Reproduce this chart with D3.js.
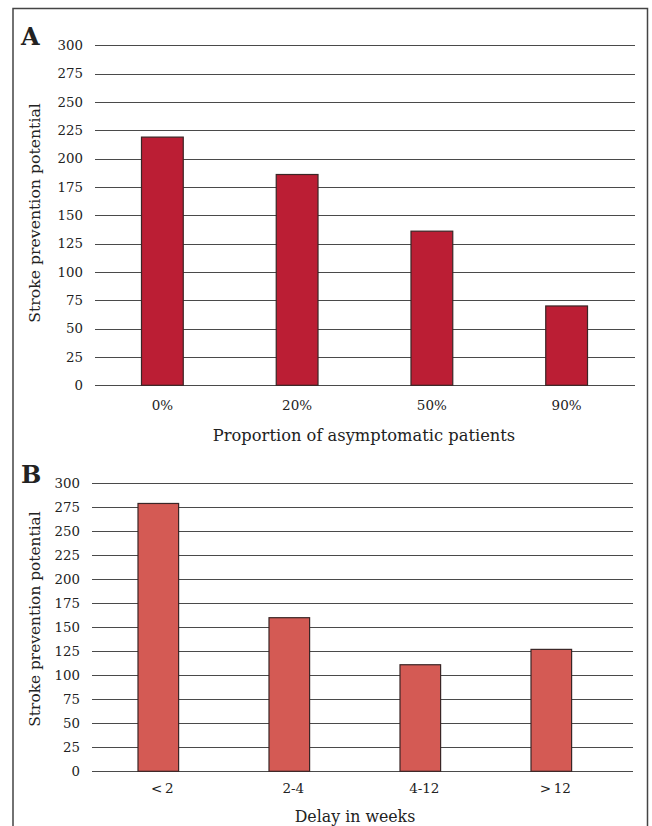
<!DOCTYPE html>
<html>
<head>
<meta charset="utf-8">
<script src="https://cdn.jsdelivr.net/npm/d3@7"></script>
<style>
  body { margin: 0; background: #fff; }
  svg { display: block; }
  text { font-family: "DejaVu Serif", serif; fill: #222; }
</style>
</head>
<body>
<svg id="chart" width="652" height="826"></svg>
<script>
// Panel A data
const categoriesA = ['0%', '20%', '50%', '90%'];
const valuesA = [219, 186, 136, 70];

// Panel B data
const categoriesB = ['<\u20092', '2-4', '4-12', '>\u200912'];
const valuesB = [279, 160, 111, 127];

const yTicks = [0, 25, 50, 75, 100, 125, 150, 175, 200, 225, 250, 275, 300];

const svg = d3.select('#chart');

// outer frame (bottom edge runs off the page)
svg.append('path')
    .attr('d', 'M13,830 L13,8.5 L647.5,8.5 L647.5,830')
    .attr('fill', 'none')
    .attr('stroke', '#444')
    .attr('stroke-width', 1.5);

function drawPanel(opts) {
    // bars sit in their own band range, gridlines may run past it
    const x = d3.scaleBand()
        .domain(opts.categories)
        .range([opts.bandLeft, opts.bandRight]);

    const y = d3.scaleLinear()
        .domain([0, 300])
        .range([opts.bottom, opts.top]);

    const g = svg.append('g');

    // gridlines
    g.append('g')
        .selectAll('line')
        .data(yTicks)
        .enter()
        .append('line')
        .attr('x1', opts.left)
        .attr('x2', opts.right)
        .attr('y1', d => Math.round(y(d)) + 0.5)
        .attr('y2', d => Math.round(y(d)) + 0.5)
        .attr('stroke', '#4a4a4a')
        .attr('stroke-width', 1.1);

    // y tick labels
    g.append('g')
        .selectAll('text')
        .data(yTicks)
        .enter()
        .append('text')
        .attr('x', opts.left - 12)
        .attr('y', d => y(d))
        .attr('dy', '0.35em')
        .attr('text-anchor', 'end')
        .attr('font-size', 13.3)
        .text(d => d);

    // bars
    const bw = x.bandwidth() * opts.barFrac;
    g.append('g')
        .selectAll('rect')
        .data(opts.values)
        .enter()
        .append('rect')
        .attr('x', (d, i) => x(opts.categories[i]) + (x.bandwidth() - bw) / 2)
        .attr('y', d => y(d))
        .attr('width', bw)
        .attr('height', d => y(0) - y(d))
        .attr('fill', opts.color)
        .attr('stroke', '#3a2626')
        .attr('stroke-width', 1.2);

    // x tick labels
    g.append('g')
        .selectAll('text')
        .data(opts.categories)
        .enter()
        .append('text')
        .attr('x', d => x(d) + x.bandwidth() / 2 + opts.labelShift)
        .attr('y', opts.bottom + opts.tickGap)
        .attr('text-anchor', 'middle')
        .attr('font-size', 13.5)
        .text(d => d);

    // x axis title
    g.append('text')
        .attr('x', opts.xTitleX)
        .attr('y', opts.xTitleY)
        .attr('text-anchor', 'middle')
        .attr('font-size', opts.xTitleSize)
        .text(opts.xTitle);

    // y axis title
    g.append('text')
        .attr('transform', `translate(${opts.yTitleX},${opts.yTitleY}) rotate(-90)`)
        .attr('text-anchor', 'middle')
        .attr('font-size', opts.yTitleSize)
        .text('Stroke prevention potential');

    // panel letter
    g.append('text')
        .attr('x', opts.letterX)
        .attr('y', opts.letterY)
        .attr('font-size', 24)
        .attr('font-weight', 'bold')
        .attr('fill', '#111')
        .text(opts.letter);
}

drawPanel({
    letter: 'A', letterX: 21, letterY: 45,
    categories: categoriesA, values: valuesA,
    left: 95, right: 635, bandLeft: 95, bandRight: 634,
    top: 45.3, bottom: 385.3,
    barFrac: 0.31, color: '#bb1e34',
    labelShift: 0, tickGap: 25,
    xTitle: 'Proportion of asymptomatic patients',
    xTitleX: 364, xTitleY: 441, xTitleSize: 16.3,
    yTitleX: 40, yTitleY: 213, yTitleSize: 15.7
});

drawPanel({
    letter: 'B', letterX: 21, letterY: 483,
    categories: categoriesB, values: valuesB,
    left: 92, right: 633, bandLeft: 92.8, bandRight: 616.8,
    top: 483.3, bottom: 771.3,
    barFrac: 0.31, color: '#d45a54',
    labelShift: 4, tickGap: 22,
    xTitle: 'Delay in weeks',
    xTitleX: 355, xTitleY: 821.5, xTitleSize: 15.8,
    yTitleX: 40, yTitleY: 619, yTitleSize: 15.4
});
</script>
</body>
</html>
